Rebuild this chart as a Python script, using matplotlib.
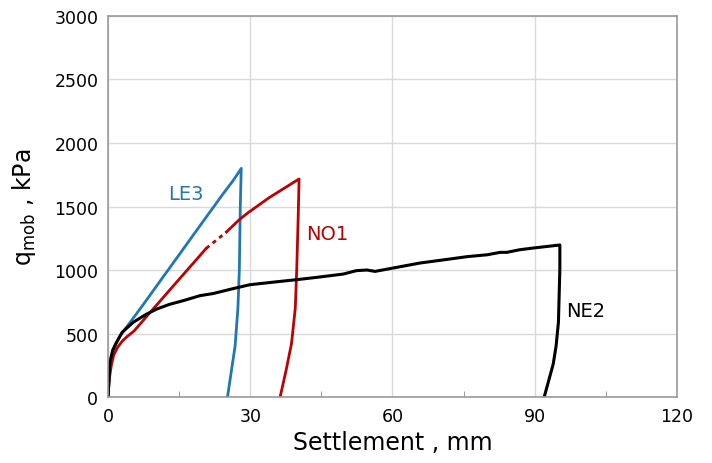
import matplotlib.pyplot as plt
from matplotlib.ticker import MultipleLocator

# LE3 load test (settlement mm, q_mob kPa)
le3_s = [0, 0.3, 0.8, 1.5, 2.5, 3.5, 5, 7, 9, 12, 15, 18, 21, 24, 26.5, 28.1,
         27.9, 27.7, 27.4, 26.8, 26.0, 25.2]
le3_q = [0, 200, 320, 410, 480, 530, 605, 706, 809, 965, 1120, 1276, 1431, 1586, 1710, 1800,
         1500, 1000, 700, 400, 200, 0]

# NO1 - first branch, gap (dotted), second branch
no1_s_a = [0, 0.3, 0.7, 1.2, 2, 3, 4, 5.5, 7, 9, 11, 13, 15, 17, 19, 20.7]
no1_q_a = [0, 150, 250, 330, 390, 440, 475, 520, 585, 671, 756, 842, 927, 1012, 1097, 1170]
no1_s_gap = [20.7, 25.0]
no1_q_gap = [1170, 1300]
no1_s_b = [25.0, 27.8, 29.5, 31, 34, 37, 40.3,
           40.1, 39.8, 39.5, 38.7, 37.5, 36.3]
no1_q_b = [1300, 1400, 1450, 1490, 1570, 1640, 1717,
           1400, 1000, 700, 420, 200, 0]

# NE2
ne2_s = [0, 0.4, 1.0, 1.8, 3, 5.3, 8, 10.3, 13, 16, 19.4, 22.2, 26, 29.9, 35, 39.8, 44,
         49.6, 52.4, 54.6, 56.3, 60.2, 65.8, 72.2, 75.7, 80, 82.7, 84.1, 86.9, 89.7, 95.3,
         95.3, 95.0, 94.5, 93.9, 92.0]
ne2_q = [0, 275, 370, 430, 510, 588, 650, 693, 730, 760, 798, 815, 850, 884, 905, 924, 942,
         968, 995, 1000, 989, 1016, 1055, 1087, 1105, 1120, 1139, 1139, 1160, 1173, 1197,
         1008, 588, 400, 260, 0]

labels = ["LE3", "NO1", "NE2"]
label_pos = [(16.4, 1600), (46.2, 1290), (100.8, 680)]
colors = ["#1f78b4", "#c00000", "#000000"]

fig = plt.figure(figsize=(7.12, 4.64), dpi=100)
ax = fig.add_axes([0.1517, 0.1422, 0.7991, 0.8212])

ax.plot(le3_s, le3_q, color=colors[0], lw=2)
ax.plot(no1_s_a, no1_q_a, color=colors[1], lw=2)
ax.plot(no1_s_gap, no1_q_gap, color=colors[1], lw=2, linestyle=(0, (1.5, 1.5)))
ax.plot(no1_s_b, no1_q_b, color=colors[1], lw=2)
ax.plot(ne2_s, ne2_q, color=colors[2], lw=2.2)

for lab, (x, y), c in zip(labels, label_pos, colors):
    ax.text(x, y, lab, color=c, fontsize=14, ha="center", va="center")

ax.set_xlim(0, 120)
ax.set_ylim(0, 3000)
ax.xaxis.set_major_locator(MultipleLocator(30))
ax.xaxis.set_minor_locator(MultipleLocator(15))
ax.yaxis.set_major_locator(MultipleLocator(500))
ax.grid(True, which="major", color="#d9d9d9", lw=1)
ax.set_axisbelow(True)
ax.tick_params(axis="both", which="major", length=0, labelsize=12.5, pad=7)
ax.tick_params(axis="x", which="minor", direction="in", length=4, color="#888888")
for sp in ax.spines.values():
    sp.set_color("#999999")
    sp.set_linewidth(1.2)

ax.set_xlabel("Settlement , mm", fontsize=17, labelpad=4)
ax.set_ylabel(r"q$_{\mathrm{mob}}$ , kPa", fontsize=17, labelpad=12)

fig.savefig("out.png", dpi=100)
